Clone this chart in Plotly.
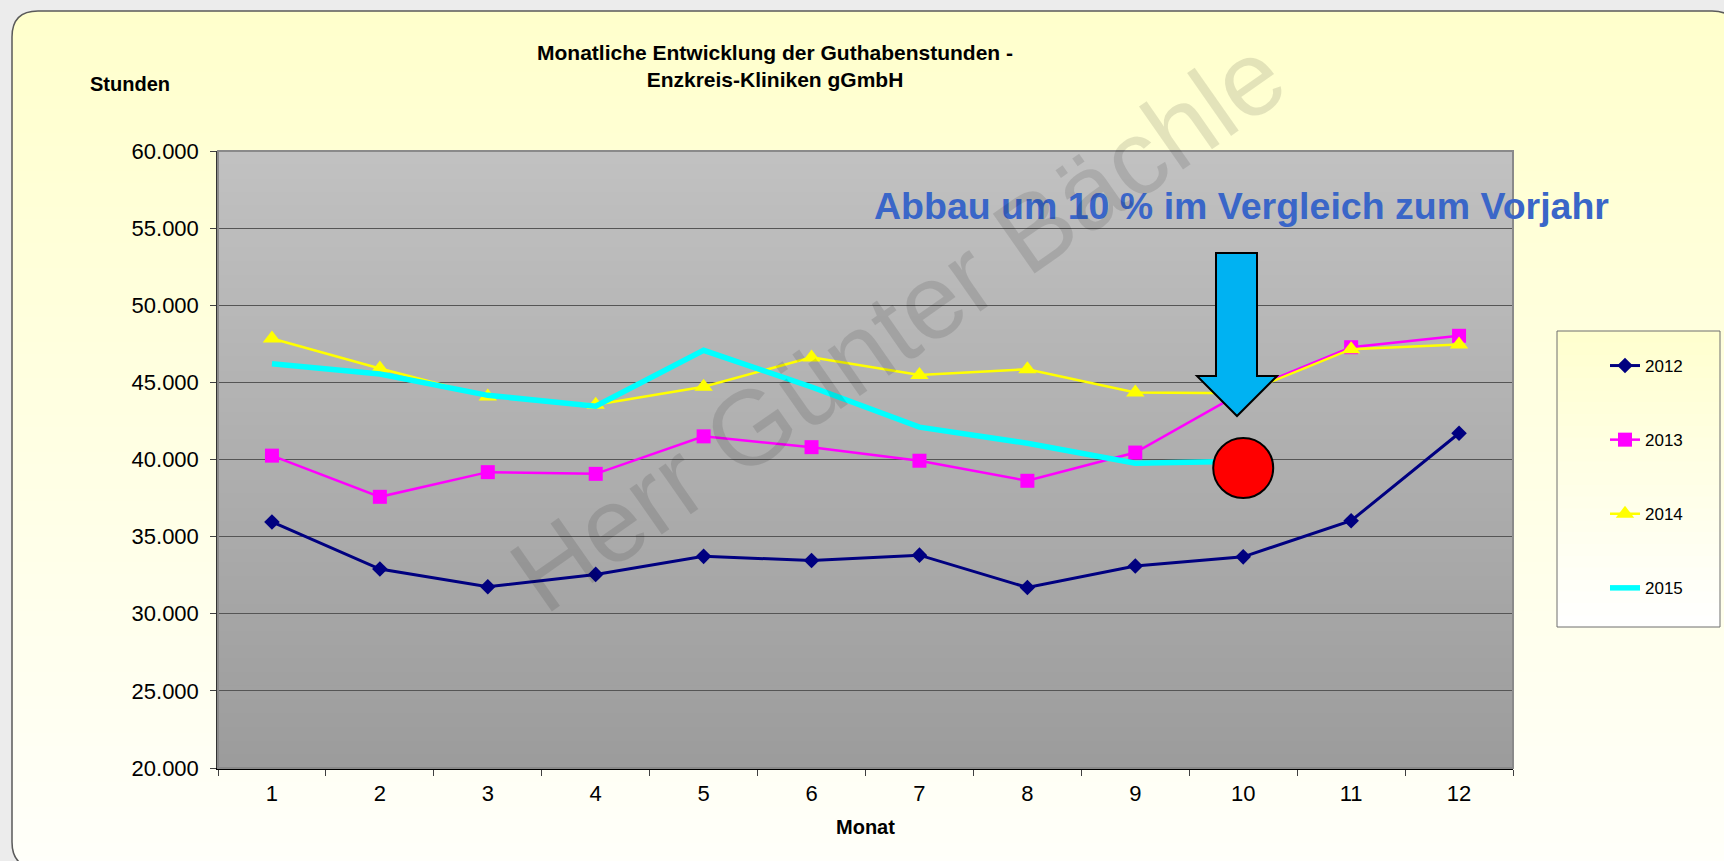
import plotly.graph_objects as go

# ---------------- data ----------------
months = ["1", "2", "3", "4", "5", "6", "7", "8", "9", "10", "11", "12"]
v2012 = [35950, 32900, 31750, 32550, 33720, 33450, 33800, 31700, 33100, 33690, 36030, 41700]
v2013 = [40250, 37580, 39180, 39070, 41500, 40800, 39920, 38620, 40450, 44400, 47280, 48020]
v2014 = [47840, 45900, 44080, 43550, 44720, 46620, 45480, 45850, 44350, 44300, 47150, 47450]
v2015 = [46210, 45540, 44160, 43450, 47080, 44700, 42100, 41050, 39760, 39880, None, None]
target_month = ["10"]
target_value = [39450]

title_text = "<b>Monatliche Entwicklung der Guthabenstunden -<br>Enzkreis-Kliniken gGmbH</b>"
y_title = "Stunden"
x_title = "Monat"
callout = "Abbau um 10 % im Vergleich zum Vorjahr"
watermark = "Herr Günter Bächle"

# ---------------- geometry (pixels of the 1724x861 page) ----------------
W, H = 1724, 861
PL, PR, PT, PB = 218, 1513, 151, 768   # plot area edges

def px(x):
    return (x - PL) / (PR - PL)

def py(y):
    return (PB - y) / (PB - PT)

FONT = "Liberation Sans, Arial, sans-serif"

def lerp(c1, c2, t):
    return "rgb(%d,%d,%d)" % tuple(round(a + (b - a) * t) for a, b in zip(c1, c2))

shapes = []

def gradient_rect(x0, y0, x1, y1, ctop, cbot, n):
    h = (y1 - y0) / n
    for i in range(n):
        ya = y0 + i * h
        yb = ya + h + 0.8
        shapes.append(dict(type="rect", xref="paper", yref="paper", layer="below",
                           x0=px(x0), x1=px(x1), y0=py(ya), y1=py(min(yb, y1)),
                           line=dict(width=0), fillcolor=lerp(ctop, cbot, (i + 0.5) / n)))

# outer panel gradient
OX0, OY0, OX1, OY1, R = 12, 11, 1738, 868, 26
gradient_rect(OX0, OY0, OX1, OY1, (255, 255, 204), (255, 255, 250), 70)
BG = "#ECECEC"

def corner_mask(cx, cy, dx, dy):
    return ("M %f,%f L %f,%f Q %f,%f %f,%f Z" %
            (px(cx), py(cy), px(cx + dx * R), py(cy), px(cx), py(cy), px(cx), py(cy + dy * R)))

for cx, cy, dx, dy in [(OX0, OY0, 1, 1), (OX1, OY0, -1, 1), (OX0, OY1, 1, -1)]:
    shapes.append(dict(type="path", xref="paper", yref="paper", layer="below",
                       path=corner_mask(cx, cy, dx, dy), fillcolor=BG, line=dict(width=0)))

border_path = " ".join([
    "M %f,%f" % (px(OX0), py(OY0 + R)),
    "Q %f,%f %f,%f" % (px(OX0), py(OY0), px(OX0 + R), py(OY0)),
    "L %f,%f" % (px(OX1 - R), py(OY0)),
    "Q %f,%f %f,%f" % (px(OX1), py(OY0), px(OX1), py(OY0 + R)),
    "L %f,%f" % (px(OX1), py(OY1)),
    "L %f,%f" % (px(OX0 + R), py(OY1)),
    "Q %f,%f %f,%f" % (px(OX0), py(OY1), px(OX0), py(OY1 - R)),
    "Z"])
shapes.append(dict(type="path", xref="paper", yref="paper", layer="below",
                   path=border_path, line=dict(color="#5a5a5a", width=1.5)))

# plot area gradient
gradient_rect(PL, PT, PR, PB, (193, 193, 193), (156, 156, 156), 45)
# plot area frame
shapes.append(dict(type="rect", xref="paper", yref="paper", layer="above",
                   x0=0, x1=1, y0=0, y1=1, line=dict(color="#8a8a8a", width=2)))

# legend box
LX0, LY0, LX1, LY1 = 1557, 331, 1720, 627
gradient_rect(LX0, LY0, LX1, LY1, (255, 255, 206), (255, 255, 255), 25)
shapes.append(dict(type="rect", xref="paper", yref="paper", layer="below",
                   x0=px(LX0), x1=px(LX1), y0=py(LY1), y1=py(LY0),
                   line=dict(color="#6e6e6e", width=1)))

# arrow (callout decoration)
ax = dict(sl=1216, sr=1257, top=253, hb=376, hl=1197, hr=1277, tipx=1237, tipy=416)
arrow_path = " ".join([
    "M %f,%f" % (px(ax["sl"]), py(ax["top"])),
    "L %f,%f" % (px(ax["sr"]), py(ax["top"])),
    "L %f,%f" % (px(ax["sr"]), py(ax["hb"])),
    "L %f,%f" % (px(ax["hr"]), py(ax["hb"])),
    "L %f,%f" % (px(ax["tipx"]), py(ax["tipy"])),
    "L %f,%f" % (px(ax["hl"]), py(ax["hb"])),
    "L %f,%f" % (px(ax["sl"]), py(ax["hb"])),
    "Z"])
shapes.append(dict(type="path", xref="paper", yref="paper", layer="above",
                   path=arrow_path, fillcolor="#00B2F2", line=dict(color="#000000", width=2)))

fig = go.Figure()
fig.add_trace(go.Scatter(x=months, y=v2012, name="2012", mode="lines+markers", legendgroup="a",
                         line=dict(color="#000080", width=3),
                         marker=dict(symbol="diamond", size=12, color="#000080")))
fig.add_trace(go.Scatter(x=months, y=v2013, name="2013", mode="lines+markers", legendgroup="b",
                         line=dict(color="#FF00FF", width=2.5),
                         marker=dict(symbol="square", size=14, color="#FF00FF")))
fig.add_trace(go.Scatter(x=months, y=v2014, name="2014", mode="lines+markers", legendgroup="c",
                         line=dict(color="#FFFF00", width=2.5),
                         marker=dict(symbol="triangle-up", size=16, color="#FFFF00")))
fig.add_trace(go.Scatter(x=months, y=v2015, name="2015", mode="lines", legendgroup="d",
                         line=dict(color="#00FFFF", width=5.5)))
fig.add_trace(go.Scatter(x=target_month, y=target_value, mode="markers", showlegend=False,
                         hoverinfo="skip", cliponaxis=False,
                         marker=dict(symbol="circle", size=60, color="#FF0000",
                                     line=dict(color="#000000", width=2))))

annotations = [
    dict(text="<b>%s</b>" % y_title, xref="paper", yref="paper", x=px(130), y=py(84),
         xanchor="center", yanchor="middle", showarrow=False,
         font=dict(family=FONT, size=20, color="#000000")),
    dict(text="<b>%s</b>" % x_title, xref="paper", yref="paper", x=px(865), y=py(827),
         xanchor="center", yanchor="middle", showarrow=False,
         font=dict(family=FONT, size=20, color="#000000")),
    dict(text="<b>%s</b>" % callout, xref="paper", yref="paper", x=px(1241), y=py(206),
         xanchor="center", yanchor="middle", showarrow=False,
         font=dict(family=FONT, size=37.5, color="#3A66C8")),
    dict(text=watermark, xref="paper", yref="paper", x=px(898), y=py(324),
         xanchor="center", yanchor="middle", showarrow=False, textangle=-35,
         font=dict(family=FONT, size=106, color="rgba(0,0,0,0.11)")),
]

fig.update_layout(
    width=W, height=H,
    margin=dict(l=PL, r=W - PR, t=PT, b=H - PB, pad=0),
    paper_bgcolor=BG, plot_bgcolor="rgba(0,0,0,0)",
    separators=",.",
    font=dict(family=FONT, size=22, color="#000000"),
    title=dict(text=title_text, x=775 / W, xanchor="center", y=1 - 60 / H, yanchor="middle",
               font=dict(family=FONT, size=21, color="#000000")),
    xaxis=dict(type="category", range=[-0.5, 11.5], tickson="boundaries", ticks="outside",
               ticklen=6, tickcolor="#404040", showgrid=False, showline=True,
               linecolor="#000000", linewidth=2, tickfont=dict(size=22),
               ticklabelstandoff=5, fixedrange=True),
    yaxis=dict(range=[20000, 60000], dtick=5000, tickformat=",d", ticks="outside", ticklen=6,
               tickcolor="#404040", showgrid=True, gridcolor="#555555", gridwidth=1.2,
               showline=True, linecolor="#333333", linewidth=1.5, zeroline=False,
               tickfont=dict(size=22), ticklabelstandoff=7, fixedrange=True),
    legend=dict(x=px(1605), y=py(348), xanchor="left", yanchor="top",
                bgcolor="rgba(0,0,0,0)", borderwidth=0, tracegroupgap=49,
                font=dict(family=FONT, size=17, color="#000000")),
    shapes=shapes,
    annotations=annotations,
    showlegend=True,
)

fig.write_html("out.html", config={"displayModeBar": False},
               post_script="document.body.style.margin='0';"
                           "document.body.style.background='%s';" % BG)
